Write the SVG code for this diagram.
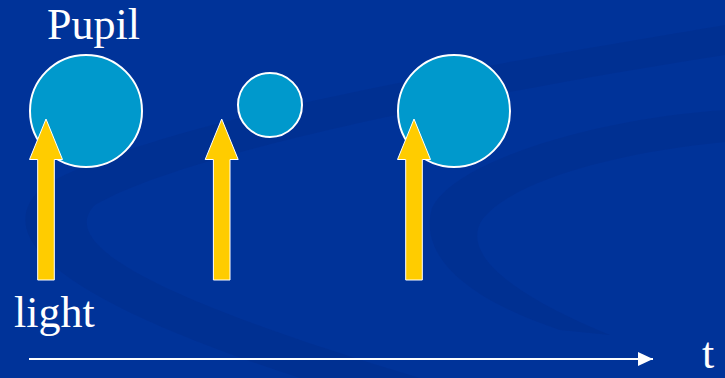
<svg xmlns="http://www.w3.org/2000/svg" width="725" height="378" viewBox="0 0 725 378">
<defs>
<style>
.bg{fill:#003399}
.sw{fill:#002a88;opacity:0.35}
.pupil{fill:#0099cc;stroke:#ffffff;stroke-width:2}
.ray{fill:#ffcc00;stroke:#ffffff;stroke-width:1}
.lbl{font-family:"Liberation Serif","Times New Roman",serif;font-size:44px;fill:#ffffff}
.axis{stroke:#ffffff;stroke-width:2;fill:none}
</style>
<marker id="ah" markerWidth="15" markerHeight="14" refX="15" refY="7" orient="auto" markerUnits="userSpaceOnUse">
<path d="M0,0 L15,7 L0,14 Z" fill="#ffffff"/>
</marker>
</defs>
<rect class="bg" x="0" y="0" width="725" height="378"/>
<g id="background">
<path class="sw" d="M725,25 C520,60 170,115 45,185 C-15,235 60,300 300,378 L420,378 C160,300 55,245 95,205 C190,150 500,90 725,55 Z"/>
<path class="sw" d="M725,110 C600,118 455,160 432,208 C418,258 470,300 560,330 L610,335 C505,292 462,252 482,220 C512,180 620,152 725,142 Z"/>
</g>
<g id="pupil1"><circle class="pupil" cx="86" cy="111" r="56"/></g>
<g id="pupil2"><circle class="pupil" cx="270" cy="105" r="32"/></g>
<g id="pupil3"><circle class="pupil" cx="454" cy="111" r="56"/></g>
<g id="connectors">
<path id="light1" class="ray" d="M46,119 L62.5,159.5 L54.3,159.5 L54.3,280 L37.7,280 L37.7,159.5 L29.5,159.5 Z"/>
<path id="light2" class="ray" d="M221.7,119 L238.2,159.5 L230,159.5 L230,280 L213.4,280 L213.4,159.5 L205.2,159.5 Z"/>
<path id="light3" class="ray" d="M414,119 L430.5,159.5 L422.3,159.5 L422.3,280 L405.7,280 L405.7,159.5 L397.5,159.5 Z"/>
<line id="time-axis" class="axis" x1="29" y1="359" x2="653" y2="359" marker-end="url(#ah)"/>
</g>
<g id="labels">
<text class="lbl" x="47" y="39">Pupil</text>
<text class="lbl" x="14" y="327">light</text>
<text class="lbl" x="702" y="368">t</text>
</g>
</svg>
